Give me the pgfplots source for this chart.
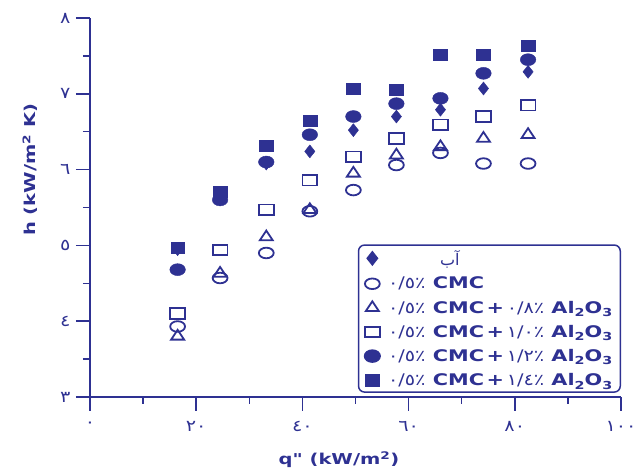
\documentclass[border=0pt]{standalone}
\usepackage{fontspec}
\usepackage{pgfplots}
\pgfplotsset{compat=1.18}
\TeXXeTstate=1
\newfontfamily\lblfont[FakeStretch=1.3]{DejaVu Sans Bold}
\newfontfamily\digfont[FakeStretch=1.2]{DejaVu Sans}
\newfontfamily\arabicfont[Script=Arabic]{DejaVu Sans}
\definecolor{blu}{RGB}{46,49,146}
\newcommand{\sub}[1]{\raisebox{-0.4ex}{\fontsize{11}{11}\selectfont #1}}
\newcommand{\ent}[1]{{\digfont ٠/٥٪} CMC\,+\,{\digfont #1} Al\sub{2}O\sub{3}}

\pgfplotstableread{
x h
16.5 4.95
24.5 5.62
33.2 6.08
41.4 6.24
49.6 6.52
57.7 6.70
66.0 6.79
74.1 7.07
82.5 7.29
}\water
\pgfplotstableread{
x h
16.5 3.93
24.5 4.57
33.2 4.90
41.4 5.45
49.6 5.73
57.7 6.06
66.0 6.22
74.1 6.08
82.5 6.08
}\cmc
\pgfplotstableread{
x h
16.5 3.80
24.5 4.63
33.2 5.11
41.4 5.47
49.6 5.95
57.7 6.19
66.0 6.30
74.1 6.41
82.5 6.46
}\aa
\pgfplotstableread{
x h
16.5 4.10
24.5 4.94
33.2 5.47
41.4 5.86
49.6 6.17
57.7 6.41
66.0 6.59
74.1 6.70
82.5 6.85
}\ab
\pgfplotstableread{
x h
16.5 4.68
24.5 5.60
33.2 6.10
41.4 6.46
49.6 6.70
57.7 6.87
66.0 6.94
74.1 7.27
82.5 7.45
}\ac
\pgfplotstableread{
x h
16.5 4.97
24.5 5.71
33.2 6.32
41.4 6.65
49.6 7.07
57.7 7.05
66.0 7.51
74.1 7.51
82.5 7.64
}\ad

\begin{document}
\begin{tikzpicture}
\begin{axis}[
  scale only axis, width=531pt, height=379pt,
  xmin=0, xmax=100, ymin=3, ymax=8,
  axis x line*=bottom, axis y line*=left,
  axis line style={blu, line width=2pt, -},
  xtick={0,20,...,100}, xticklabels={٠,٢٠,٤٠,٦٠,٨٠,١٠٠},
  ytick={3,4,...,8}, yticklabels={٣,٤,٥,٦,٧,٨},
  minor x tick num=1, minor y tick num=1,
  tick align=outside,
  major tick length=14pt, minor tick length=7pt,
  every tick/.style={blu, line width=1.5pt},
  tick label style={font=\digfont\fontsize{16}{16}\selectfont, text=blu},
  xticklabel style={yshift=-7pt},
  yticklabel style={xshift=-2pt},
  xlabel={q" (kW/m\textsuperscript{2})},
  ylabel={h (kW/m\textsuperscript{2} K)},
  label style={font=\lblfont\fontsize{15}{15}\selectfont, text=blu},
  xlabel style={at={(axis description cs:0.469,-0.166)}, anchor=center},
  ylabel style={at={(axis description cs:-0.113,0.6)}, anchor=center},
  legend style={at={(1,0.011)}, anchor=south east, draw=blu, line width=1.5pt,
    rounded corners=6pt, text=blu, font=\lblfont\fontsize{16}{17}\selectfont,
    row sep=6.5pt, inner xsep=6pt, inner ysep=3pt,
    /tikz/every odd column/.append style={column sep=6pt}},
  legend cell align=left,
]
\coordinate (SW) at (rel axis cs:0,0);
\coordinate (NE) at (rel axis cs:1,1);
\addplot[only marks, blu, mark=diamond*, mark size=6.5pt, mark options={xscale=1.05, sharp corners}] table[x=x,y=h]{\water};
\addlegendentry{\hspace*{52pt}{\arabicfont\fontsize{16}{16}\selectfont\beginR آب\endR}}
\addplot[only marks, blu, mark=o, mark size=5.3pt, mark options={xscale=1.4, line width=1.8pt, fill=white, sharp corners}] table[x=x,y=h]{\cmc};
\addlegendentry{{\digfont ٠/٥٪} CMC}
\addplot[only marks, blu, mark=triangle, mark size=6.5pt, mark options={xscale=1.15, line width=1.8pt, sharp corners}] table[x=x,y=h]{\aa};
\addlegendentry{\ent{٠/٨٪}}
\addplot[only marks, blu, mark=square, mark size=5.3pt, mark options={xscale=1.4, line width=1.8pt, fill=white, sharp corners}] table[x=x,y=h]{\ab};
\addlegendentry{\ent{١/٠٪}}
\addplot[only marks, blu, mark=*, mark size=6pt, mark options={xscale=1.3}] table[x=x,y=h]{\ac};
\addlegendentry{\ent{١/٢٪}}
\addplot[only marks, blu, mark=square*, mark size=5.5pt, mark options={xscale=1.25, sharp corners}] table[x=x,y=h]{\ad};
\addlegendentry{\ent{١/٤٪}}
\end{axis}
\pgfresetboundingbox
\path[use as bounding box] ([shift={(-90pt,-77pt)}]SW) rectangle ([shift={(17pt,18pt)}]NE);
\end{tikzpicture}
\end{document}
